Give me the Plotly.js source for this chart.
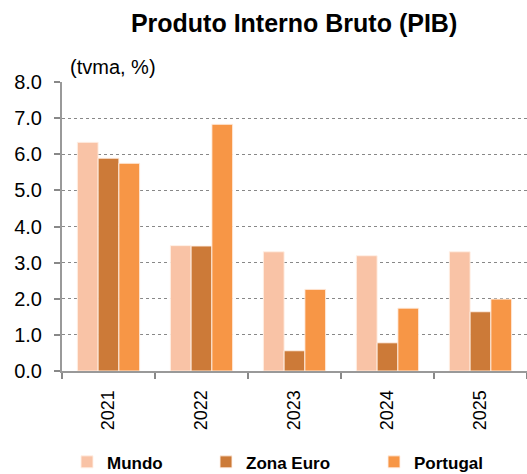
<!DOCTYPE html>
<html>
<head>
<meta charset="utf-8">
<script src="https://cdn.plot.ly/plotly-3.0.1.min.js"></script>
<style>html,body{margin:0;padding:0;background:#fff;}#chart{width:527px;height:474px;}</style>
</head>
<body>
<div id="chart"></div>
<script>
const years = ["2021", "2022", "2023", "2024", "2025"];
const mundo = [6.33, 3.47, 3.30, 3.19, 3.30];
const zonaEuro = [5.89, 3.46, 0.56, 0.78, 1.64];
const portugal = [5.75, 6.83, 2.26, 1.74, 1.99];
const seriesNames = ["Mundo", "Zona Euro", "Portugal"];
const yTicks = [0, 1, 2, 3, 4, 5, 6, 7, 8];

const colors = ["#F9C3A6", "#CC7A38", "#F79646"];
const font = "Liberation Sans, Arial, sans-serif";
const series = [mundo, zonaEuro, portugal];
const legendIds = ["legend", "legend2", "legend3"];

const traces = series.map((vals, i) => ({
  type: "bar",
  x: years,
  y: vals,
  name: seriesNames[i],
  legend: legendIds[i],
  marker: {color: colors[i], line: {color: "rgba(255,240,230,0.9)", width: 1}},
  hoverinfo: "skip"
}));

const legendBase = {
  orientation: "h",
  yanchor: "middle",
  y: -0.316,
  xanchor: "left",
  bgcolor: "rgba(0,0,0,0)",
  font: {family: font, size: 17, color: "#000", weight: "bold"},
  itemwidth: 30,
  tracegroupgap: 0
};

const layout = {
  width: 527,
  height: 474,
  margin: {l: 62, r: 0, t: 82, b: 103, autoexpand: false},
  paper_bgcolor: "#fff",
  plot_bgcolor: "#fff",
  barmode: "group",
  bargap: 0.33,
  bargroupgap: 0,
  title: {
    text: "Produto Interno Bruto (PIB)",
    font: {family: font, size: 25, color: "#000", weight: "bold"},
    x: 0.558, xref: "container", xanchor: "center",
    y: 0.952, yref: "container", yanchor: "middle"
  },
  xaxis: {
    type: "category",
    tickson: "boundaries",
    ticks: "outside",
    ticklen: 6,
    tickcolor: "#888",
    tickwidth: 2,
    tickangle: -90,
    ticklabelstandoff: 10,
    tickfont: {family: font, size: 18, color: "#000"},
    showline: true,
    linecolor: "#999",
    linewidth: 2,
    showgrid: false,
    fixedrange: true
  },
  yaxis: {
    range: [0, 8],
    tickvals: yTicks,
    tickformat: ".1f",
    ticks: "outside",
    ticklen: 6,
    tickcolor: "#888",
    tickwidth: 2,
    ticklabelstandoff: 8,
    tickfont: {family: font, size: 20, color: "#000"},
    showline: true,
    linecolor: "#999",
    linewidth: 2,
    showgrid: true,
    gridcolor: "#888",
    griddash: "dot",
    gridwidth: 1,
    zeroline: false,
    fixedrange: true
  },
  legend: Object.assign({}, legendBase, {x: (67 - 62) / 465}),
  legend2: Object.assign({}, legendBase, {x: (206 - 62) / 465}),
  legend3: Object.assign({}, legendBase, {x: (374 - 62) / 465}),
  annotations: [{
    text: "(tvma, %)",
    xref: "paper", yref: "paper",
    x: (68 - 62) / 465, y: (371 - 67) / 289,
    xanchor: "left", yanchor: "middle",
    showarrow: false,
    font: {family: font, size: 20, color: "#000"}
  }],
  showlegend: true
};

Plotly.newPlot("chart", traces, layout, {displayModeBar: false, staticPlot: true});
</script>
</body>
</html>
